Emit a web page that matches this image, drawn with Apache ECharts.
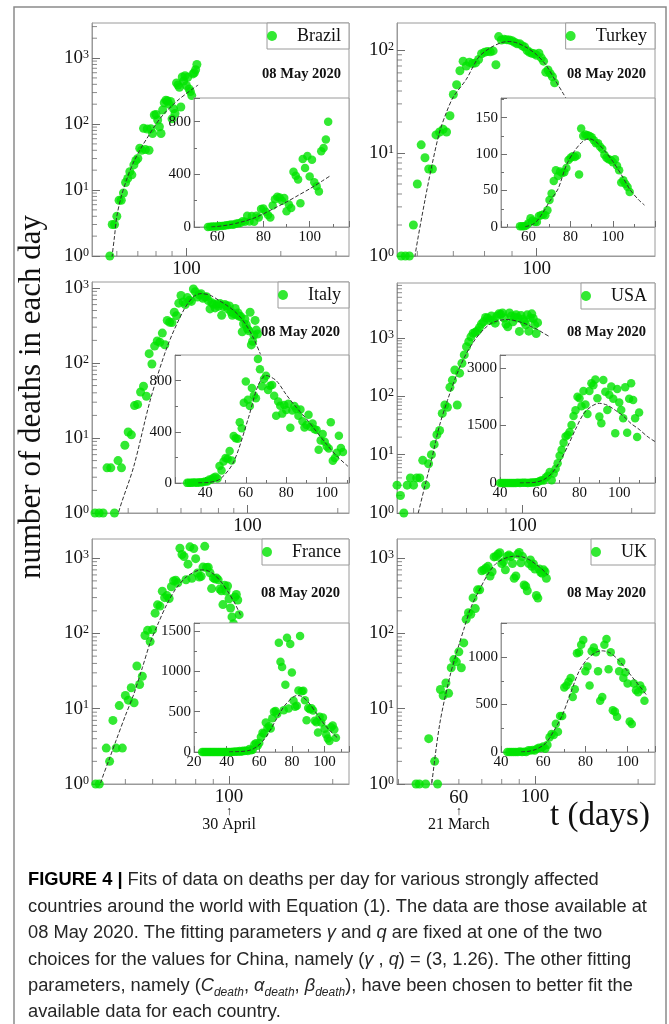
<!DOCTYPE html>
<html>
<head>
<meta charset="utf-8">
<title>Figure 4 - deaths per day</title>
<script src="https://cdn.jsdelivr.net/npm/echarts@6/dist/echarts.min.js"></script>
<style>
  html, body { margin: 0; padding: 0; background: #ffffff; }
  #fig { width: 669px; height: 1024px; }
</style>
</head>
<body>
<div id="fig"></div>
<script>
// ---- values: day t and deaths reported that day ----
var brazilDays = [56,57,58,59,60,61,62,63,64,65,66,67,68,69,70,71,72,73,74,75,76,77,78,79,80,81,82,83,84,85,86,87,88,89,90,91,92,93,94,95,96,97,98,99,100,101,102,103,104,105,106,107,108];
var brazilDeaths = [0,1,3,3,4,7,7,9,13,15,19,17,24,28,30,43,40,86,41,84,40,85,72,137,140,115,91,72,163,210,230,225,200,220,120,170,145,420,390,360,181,517,448,540,384,511,340,310,270,575,600,664,800];
var brazilFitDays = [57.5,58,59,60,62,65,68,72,76,80,85,90,95,100,105,109];
var brazilFit = [0.5,1,2,4,8,16,27,45,68,100,145,190,240,290,345,390];

var turkeyDays = [56,57,58,59,60,61,62,63,64,65,66,67,68,69,70,71,72,73,74,75,76,77,78,79,80,81,82,83,84,85,86,87,88,89,90,91,92,93,94,95,96,97,98,99,100,101,102,103,104,105,106,107,108];
var turkeyDeaths = [1,1,1,2,5,12,9,7,7,15,16,17,16,23,37,46,63,78,70,76,74,75,81,92,95,97,96,98,72,135,125,127,126,125,123,119,115,115,110,107,99,95,93,92,89,93,84,78,61,64,59,55,48];
var turkeyFitDays = [58.5,59.4,62,64,66,68,70,74,78,82,86,89,92,96,100,104,108,112,115];
var turkeyFit = [0.5,1,3.5,8,16,25,35,52,85,105,118,121,117,105,90,72,52,38,30];

var italyDays = [31,32,33,34,35,36,37,38,39,40,41,42,43,44,45,46,47,48,49,50,51,52,53,54,55,56,57,58,59,60,61,62,63,64,65,66,67,68,69,70,71,72,73,74,75,76,77,78,79,80,81,82,83,84,85,86,87,88,89,90,91,92,93,94,95,96,97,98,99,100,101,102,103,104,105,106,107,108];
var italyDeaths = [1,1,1,4,4,1,5,4,8,12,11,27,28,41,49,36,133,97,168,196,189,250,175,368,349,345,475,427,627,793,651,601,743,683,662,969,889,756,812,837,727,760,766,681,525,636,604,542,610,570,619,431,566,602,578,525,575,482,433,454,534,437,464,420,415,260,333,382,323,285,269,474,174,195,236,369,274,243];
var italyFitDays = [36.5,37.1,41.7,47.4,54,61.3,66,70,75,80,85,90,95,100,105,110.5];
var italyFit = [0.6,1,4.1,32,165,509,760,840,800,690,590,500,400,300,210,130];

var usaDays = [40,41,42,43,44,45,46,47,48,49,50,51,52,53,54,55,56,57,58,59,60,61,62,63,64,65,66,67,68,69,70,71,72,73,74,75,76,77,78,79,80,81,82,83,84,85,86,87,88,89,90,91,92,93,94,95,96,97,98,99,100,101,102,103,104,105,106,107,108,109,110];
var usaDeaths = [0,1,0,1,1,3,2,1,3,4,3,4,4,8,3,7,10,15,22,26,51,71,65,143,190,284,71,250,370,514,711,867,1050,1213,1253,1330,1514,1750,1900,2253,2210,2000,2400,2050,1800,2400,2601,2550,2700,2210,1732,1557,2688,2384,1906,2300,2515,2200,1300,2450,2100,1906,1688,2500,1313,2200,2601,2166,1688,1200,1840];
var usaFitDays = [50,51.5,54,56,59,62,66,70,74,78,82,86,90,94,98,102,106,110,114,118];
var usaFit = [0.5,1,3.3,8,32,85,250,550,950,1400,1800,2000,2080,2030,1900,1750,1550,1400,1220,1080];

var franceDays = [25,26,27,28,29,30,31,32,33,34,35,36,37,38,39,40,41,42,43,44,45,46,47,48,49,50,51,52,53,54,55,56,57,58,59,60,61,62,63,64,65,66,67,68,69,70,71,72,73,74,75,76,77,78,79,80,81,82,83,84,85,86,87,88,89,90,91,92,93,94,95,96,97,98,99,100,101,102,103,104,105,106,107];
var franceDeaths = [1,0,0,0,0,0,0,0,0,0,0,0,0,0,0,0,1,1,0,3,2,7,3,11,3,15,13,19,12,37,21,27,94,110,78,112,186,240,231,365,299,319,292,418,499,509,471,1355,1120,1053,518,833,1417,541,1341,987,635,561,574,762,1438,753,761,642,395,547,531,544,516,389,369,242,437,367,427,289,218,166,135,306,330,278,178];
var franceFitDays = [41.5,42.3,45,47,50,53,56,59,62,66,70,75,80,83,86,90,95,100,104,108];
var franceFit = [0.6,1,2.2,3.8,8.1,16,35,75,130,245,390,560,670,700,690,620,480,340,250,175];

var ukDays = [43,44,45,46,47,48,49,50,51,52,53,54,55,56,57,58,59,60,61,62,63,64,65,66,67,68,69,70,71,72,73,74,75,76,77,78,79,80,81,82,83,84,85,86,87,88,89,90,91,92,93,94,95,96,97,98,99,100,101,102,103,104,105,106,107,108];
var ukDeaths = [0,0,1,1,0,1,4,0,2,1,18,15,22,16,35,45,42,57,35,75,154,189,180,297,214,380,380,680,700,740,780,580,660,1040,1050,1130,1180,850,900,700,1060,1100,1050,850,540,580,1130,1190,870,1050,440,425,370,850,950,780,840,720,320,295,720,650,630,700,660,540];
var ukFitDays = [49.5,50,52.8,56.5,60,62,65,69,73,77,81,85,88,92,96,100,104,109];
var ukFit = [0.6,1,6.4,27,70,113,220,385,620,850,980,1050,1065,1040,960,850,740,600];

var countries = ['Brazil', 'Turkey', 'Italy', 'USA', 'France', 'UK'];
var daysList = [brazilDays, turkeyDays, italyDays, usaDays, franceDays, ukDays];
var deathsList = [brazilDeaths, turkeyDeaths, italyDeaths, usaDeaths, franceDeaths, ukDeaths];
var fitDaysList = [brazilFitDays, turkeyFitDays, italyFitDays, usaFitDays, franceFitDays, ukFitDays];
var fitList = [brazilFit, turkeyFit, italyFit, usaFit, franceFit, ukFit];

// axis ranges (main panels are log-log, insets linear)
var mainXRange = [[50, 330], [55, 166], [30.3, 218], [45, 232], [40, 223], [39.6, 224]];
var mainYMax = [3400, 183, 1200, 8800, 1800, 1800];
var insetXRange = [[50, 117], [47, 120], [25, 111], [40, 118], [20, 115], [40, 113]];
var insetXStep = 20;
var insetYMax = [980, 177, 1000, 3340, 1600, 1358];
var insetYStep = [400, 50, 400, 1500, 500, 500];

// ---- layout ----
var layouts = [
  { main: [92, 23, 257, 233], inset: [194, 98, 155, 129], legendRight: 320, legendTop: 23, date: [341, 74] },
  { main: [397, 23, 258, 233], inset: [501, 98, 154, 129], legendRight: 14, legendTop: 23, date: [646, 74] },
  { main: [92, 282, 257, 231], inset: [175, 355, 174, 128], legendRight: 320, legendTop: 282, date: [340, 332] },
  { main: [397, 283, 258, 230], inset: [500, 355, 155, 128], legendRight: 14, legendTop: 283, date: [646, 332] },
  { main: [92, 539, 257, 245], inset: [194, 623, 155, 129], legendRight: 320, legendTop: 539, date: [340, 593] },
  { main: [397, 539, 258, 245], inset: [501, 623, 154, 129], legendRight: 14, legendTop: 539, date: [646, 593] }
];

var SERIF = '"Liberation Serif", "Times New Roman", Times, serif';
var SANS = '"Liberation Sans", Arial, Helvetica, sans-serif';
var GREEN = '#00e400';
var FRAME = '#9a9a9a';
var TICK = '#6e6e6e';
var INK = '#111111';
var FIT = '#333333';
var CAP_SIZE = 18.3;

function pairs(xs, ys, positiveOnly) {
  var out = [];
  for (var i = 0; i < xs.length; i++) {
    if (positiveOnly && !(ys[i] > 0)) continue;
    out.push([xs[i], ys[i]]);
  }
  return out;
}

// 2..9 x 10^k strictly inside (lo, hi)
function logMinorTicks(lo, hi) {
  var out = [];
  for (var k = 0; k < 5; k++) {
    for (var m = 2; m <= 9; m++) {
      var v = m * Math.pow(10, k);
      if (v > lo && v < hi) out.push(v);
    }
  }
  return out;
}

function gridBox(r, z) {
  return {
    left: r[0], top: r[1], width: r[2], height: r[3],
    show: true, backgroundColor: '#ffffff', borderColor: FRAME, borderWidth: 1,
    containLabel: false, outerBoundsMode: 'none', z: z
  };
}

function mainLogX(grid, range) {
  return {
    gridIndex: grid, type: 'log', logBase: 10, min: range[0], max: range[1],
    axisLine: { show: true, onZero: false, lineStyle: { color: FRAME, width: 1 } },
    axisTick: { show: true, inside: true, length: 8, lineStyle: { color: TICK } },
    splitLine: { show: false },
    axisLabel: {
      show: true, margin: 4, fontFamily: SERIF, fontSize: 19, color: INK,
      showMinLabel: false, showMaxLabel: false,
      formatter: function (v) { return String(Math.round(v)); }
    }
  };
}

function mainLogY(grid, max) {
  return {
    gridIndex: grid, type: 'log', logBase: 10, min: 1, max: max,
    axisLine: { show: true, onZero: false, lineStyle: { color: FRAME, width: 1 } },
    axisTick: { show: true, inside: true, length: 8, lineStyle: { color: TICK } },
    splitLine: { show: false },
    axisLabel: {
      show: true, margin: 3, showMinLabel: true, showMaxLabel: false,
      formatter: function (v) {
        return '{b|10}{s|' + Math.round(Math.log(v) / Math.LN10) + '}';
      },
      rich: {
        b: { fontFamily: SERIF, fontSize: 19, color: INK },
        s: { fontFamily: SERIF, fontSize: 12, color: INK, verticalAlign: 'top' }
      }
    }
  };
}

function insetAxis(grid, min, max, step) {
  return {
    gridIndex: grid, type: 'value', min: min, max: max,
    minInterval: step, maxInterval: step, z: 6,
    axisLine: { show: true, onZero: false, lineStyle: { color: FRAME, width: 1 } },
    axisTick: { show: true, inside: true, length: 6, lineStyle: { color: TICK } },
    minorTick: { show: true, splitNumber: 2, length: 3, lineStyle: { color: TICK } },
    splitLine: { show: false },
    minorSplitLine: { show: false },
    axisLabel: {
      show: true, margin: 3, fontFamily: SERIF, fontSize: 15, color: INK,
      showMinLabel: min % step === 0, showMaxLabel: false,
      formatter: function (v) { return String(v); }
    }
  };
}

var grids = [], xAxes = [], yAxes = [], series = [], legends = [], graphics = [];

countries.forEach(function (name, i) {
  var L = layouts[i];
  var gm = i * 2, gi = i * 2 + 1;

  grids.push(gridBox(L.main, 0));
  grids.push(gridBox(L.inset, 5));
  xAxes.push(mainLogX(gm, mainXRange[i]));
  yAxes.push(mainLogY(gm, mainYMax[i]));
  xAxes.push(insetAxis(gi, insetXRange[i][0], insetXRange[i][1], insetXStep));
  yAxes.push(insetAxis(gi, 0, insetYMax[i], insetYStep[i]));

  // main (log-log) panel
  series.push({
    name: name, type: 'scatter', xAxisIndex: gm, yAxisIndex: gm, silent: true,
    data: pairs(daysList[i], deathsList[i], true),
    symbol: 'circle', symbolSize: 9, itemStyle: { color: GREEN }, z: 2
  });
  series.push({
    type: 'line', xAxisIndex: gm, yAxisIndex: gm, silent: true,
    data: pairs(fitDaysList[i], fitList[i], true),
    showSymbol: false, symbol: 'none', smooth: 0.3,
    lineStyle: { color: FIT, width: 1, type: [4, 2] }, z: 3
  });
  // minor ticks of the log axes
  series.push({
    type: 'scatter', xAxisIndex: gm, yAxisIndex: gm, silent: true, clip: false,
    symbol: 'rect', symbolSize: [1, 5], symbolOffset: [0, -2.5],
    itemStyle: { color: TICK }, z: 1,
    data: logMinorTicks(mainXRange[i][0], mainXRange[i][1]).map(function (v) { return [v, 1]; })
  });
  series.push({
    type: 'scatter', xAxisIndex: gm, yAxisIndex: gm, silent: true, clip: false,
    symbol: 'rect', symbolSize: [5, 1], symbolOffset: [2.5, 0],
    itemStyle: { color: TICK }, z: 1,
    data: logMinorTicks(1, mainYMax[i]).map(function (v) { return [mainXRange[i][0], v]; })
  });

  // inset (linear) panel
  series.push({
    name: name, type: 'scatter', xAxisIndex: gi, yAxisIndex: gi, silent: true,
    data: pairs(daysList[i], deathsList[i], false),
    symbol: 'circle', symbolSize: 8.5, itemStyle: { color: GREEN }, z: 7
  });
  series.push({
    type: 'line', xAxisIndex: gi, yAxisIndex: gi, silent: true,
    data: pairs(fitDaysList[i], fitList[i], false),
    showSymbol: false, symbol: 'none', smooth: 0.3,
    lineStyle: { color: FIT, width: 1, type: [4, 2] }, z: 8
  });

  legends.push({
    data: [name], right: L.legendRight, top: L.legendTop,
    icon: 'circle', itemWidth: 40, itemHeight: 10, itemGap: 0,
    padding: [4, 8, 4, 0], borderColor: FRAME, borderWidth: 1,
    backgroundColor: '#ffffff', selectedMode: false, z: 4,
    textStyle: { fontFamily: SERIF, fontSize: 18, color: INK }
  });

  graphics.push({
    type: 'text', id: 'date' + i, x: L.date[0], y: L.date[1], z: 10, silent: true,
    style: {
      text: '08 May 2020', fontFamily: SERIF, fontSize: 14.5, fontWeight: 'bold', fill: INK,
      textAlign: 'right', textVerticalAlign: 'middle', align: 'right', verticalAlign: 'middle'
    }
  });
});

// frame, axis titles, caption
graphics.push({
  type: 'rect', id: 'border', z: 0, silent: true,
  shape: { x: 14, y: 7, width: 652, height: 1040 },
  style: { fill: 'none', stroke: '#8a8a8a', lineWidth: 1.5 }
});
graphics.push({
  type: 'text', id: 'ytitle', x: 32, y: 397, rotation: Math.PI / 2, z: 10, silent: true,
  style: {
    text: 'number of deaths in each day', fontFamily: SERIF, fontSize: 31, fill: INK,
    textAlign: 'center', textVerticalAlign: 'middle', align: 'center', verticalAlign: 'middle'
  }
});
graphics.push({
  type: 'text', id: 'xtitle', x: 600, y: 816, z: 10, silent: true,
  style: {
    text: 't (days)', fontFamily: SERIF, fontSize: 33, fill: INK,
    textAlign: 'center', textVerticalAlign: 'middle', align: 'center', verticalAlign: 'middle'
  }
});

var captionLines = [
  '{b|FIGURE 4 |} Fits of data on deaths per day for various strongly affected',
  'countries around the world with Equation (1). The data are those available at',
  '08 May 2020. The fitting parameters {i|\u03b3} and {i|q} are fixed at one of the two',
  'choices for the values for China, namely ({i|\u03b3} , {i|q}) = (3, 1.26). The other fitting',
  'parameters, namely ({i|C}{sub|death}, {i|\u03b1}{sub|death}, {i|\u03b2}{sub|death}), have been chosen to better fit the',
  'available data for each country.'
];
var captionY = [880, 907, 933, 960, 986, 1012];
var capRich = {
  b: { fontFamily: SANS, fontSize: CAP_SIZE, fontWeight: 'bold', fill: '#000000', color: '#000000' },
  i: { fontFamily: SANS, fontSize: CAP_SIZE, fontStyle: 'italic', fill: '#262626', color: '#262626' },
  sub: { fontFamily: SANS, fontSize: 12, fontStyle: 'italic', fill: '#262626', color: '#262626', verticalAlign: 'bottom', padding: [0, 0, -4, 0] }
};
captionLines.forEach(function (line, k) {
  graphics.push({
    type: 'text', id: 'cap' + k, x: 28, y: captionY[k], z: 10, silent: true,
    style: {
      text: line, rich: capRich, fontFamily: SANS, fontSize: CAP_SIZE, fill: '#262626',
      textAlign: 'left', textVerticalAlign: 'middle', align: 'left', verticalAlign: 'middle'
    }
  });
});

var chart = echarts.init(document.getElementById('fig'), null, { renderer: 'canvas' });
chart.setOption({
  animation: false,
  backgroundColor: '#ffffff',
  textStyle: { fontFamily: SERIF },
  grid: grids,
  xAxis: xAxes,
  yAxis: yAxes,
  legend: legends,
  series: series,
  graphic: { elements: graphics }
});

// date annotations under the France and UK time axes, placed through the axes themselves
var frAxis = 4 * 2, ukAxis = 5 * 2;
var frX = chart.convertToPixel({ xAxisIndex: frAxis }, 100);
var uk60 = chart.convertToPixel({ xAxisIndex: ukAxis }, 60);
var axisBottom = chart.convertToPixel({ yAxisIndex: ukAxis }, 1);

function note(id, x, y, text, size) {
  return {
    type: 'text', id: id, x: x, y: y, z: 10, silent: true,
    style: {
      text: text, fontFamily: SERIF, fontSize: size, fill: INK,
      textAlign: 'center', textVerticalAlign: 'middle', align: 'center', verticalAlign: 'middle'
    }
  };
}

chart.setOption({
  graphic: {
    elements: [
      note('ukSixty', uk60, axisBottom + 14, '60', 19),
      note('frArrow', frX, axisBottom + 28, '\u2191', 12),
      note('frDate', frX, axisBottom + 41, '30 April', 16),
      note('ukArrow', uk60, axisBottom + 28, '\u2191', 12),
      note('ukDate', uk60, axisBottom + 41, '21 March', 16)
    ]
  }
});
</script>
</body>
</html>
